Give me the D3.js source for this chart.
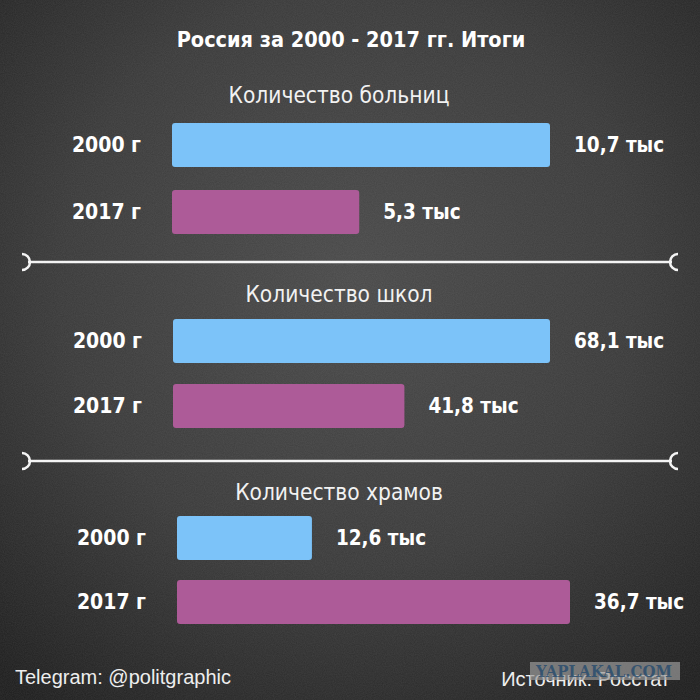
<!DOCTYPE html>
<html>
<head>
<meta charset="utf-8">
<script src="https://cdn.jsdelivr.net/npm/d3@7"></script>
<style>
  html, body { margin: 0; padding: 0; background: #2b2b2b; }
  svg { display: block; }
  .narrow { font-family: "Liberation Sans Narrow", "DejaVu Sans Condensed", "Liberation Sans", sans-serif; }
</style>
</head>
<body>
<div id="chart"></div>
<script>
// data
const title = "Россия за 2000 - 2017 гг. Итоги";
const sections = ["Количество больниц", "Количество школ", "Количество храмов"];
const years = ["2000 г", "2017 г"];
const values2000 = [10.7, 68.1, 12.6];
const values2017 = [5.3, 41.8, 36.7];
const unit = "тыс";
const footerLeft = "Telegram: @politgraphic";
const footerRight = "Источник: Росстат";

const colors = ["#7cc3f9", "#ad5b98"];

// layout per section (positions only)
const layout = [
  { titleY: 103, barX: 172, barW: 378, rowY: [123, 190] },
  { titleY: 302, barX: 173, barW: 377, rowY: [319, 384] },
  { titleY: 500, barX: 177, barW: 393, rowY: [516, 580] }
];
const separators = [262, 461];
const barH = 44;

const W = 700, H = 700;
const fmt = v => d3.format(".1f")(v).replace(".", ",") + " " + unit;

const svg = d3.select("#chart").append("svg").attr("width", W).attr("height", H);
const defs = svg.append("defs");

const grad = defs.append("radialGradient").attr("id", "bg")
  .attr("cx", "50%").attr("cy", "40%").attr("r", "75%");
grad.append("stop").attr("offset", "0%").attr("stop-color", "#4a4a4a");
grad.append("stop").attr("offset", "55%").attr("stop-color", "#3a3a3a");
grad.append("stop").attr("offset", "100%").attr("stop-color", "#1e1e1e");

const noise = defs.append("filter").attr("id", "noise").attr("x", 0).attr("y", 0).attr("width", "100%").attr("height", "100%");
noise.append("feTurbulence").attr("type", "fractalNoise").attr("baseFrequency", 0.9).attr("numOctaves", 2).attr("seed", 3);
noise.append("feColorMatrix").attr("type", "matrix")
  .attr("values", "0 0 0 0 0.5  0 0 0 0 0.5  0 0 0 0 0.5  0 0 0 0.12 0");

svg.append("rect").attr("width", W).attr("height", H).attr("fill", "url(#bg)");
svg.append("rect").attr("width", W).attr("height", H).attr("filter", "url(#noise)");

// title
svg.append("text").attr("class", "narrow")
  .attr("x", 351).attr("y", 47)
  .attr("text-anchor", "middle")
  .attr("fill", "#fff").attr("font-weight", "bold").attr("font-size", 21.5)
  .text(title);

sections.forEach((name, i) => {
  const L = layout[i];
  const vals = [values2000[i], values2017[i]];
  const x = d3.scaleLinear().domain([0, d3.max(vals)]).range([0, L.barW]);
  const y = d3.scaleOrdinal().domain(years).range(L.rowY);
  const g = svg.append("g");

  g.append("text").attr("class", "narrow")
    .attr("x", 339).attr("y", L.titleY)
    .attr("text-anchor", "middle")
    .attr("fill", "#f2f2f2").attr("font-size", 22.5)
    .text(name);

  const rows = g.selectAll("g.row").data(years.map((yr, j) => ({ yr, v: vals[j], j })))
    .enter().append("g").attr("class", "row");

  rows.append("rect")
    .attr("x", L.barX)
    .attr("y", d => y(d.yr))
    .attr("width", d => x(d.v))
    .attr("height", barH)
    .attr("rx", 3)
    .attr("fill", d => colors[d.j]);

  rows.append("text").attr("class", "narrow")
    .attr("x", L.barX - 31)
    .attr("y", d => y(d.yr) + barH / 2)
    .attr("dy", "0.35em")
    .attr("text-anchor", "end")
    .attr("fill", "#fff").attr("font-weight", "bold").attr("font-size", 21)
    .text(d => d.yr);

  rows.append("text").attr("class", "narrow")
    .attr("x", d => L.barX + x(d.v) + 24)
    .attr("y", d => y(d.yr) + barH / 2)
    .attr("dy", "0.35em")
    .attr("fill", "#fff").attr("font-weight", "bold").attr("font-size", 20.5)
    .text(d => fmt(d.v));
});

// separators with bracket ends
separators.forEach(sy => {
  const s = svg.append("g").attr("stroke", "#f4f4f4").attr("fill", "none").attr("stroke-width", 2.5);
  s.append("line").attr("x1", 28).attr("x2", 672).attr("y1", sy).attr("y2", sy);
  s.append("path").attr("d", `M22,${sy - 8} A8,8 0 0 1 22,${sy + 8}`);
  s.append("path").attr("d", `M678,${sy - 8} A8,8 0 0 0 678,${sy + 8}`);
});

// footer
svg.append("text")
  .attr("x", 15).attr("y", 684)
  .attr("font-family", "Liberation Sans Narrow, Liberation Sans, sans-serif")
  .attr("fill", "#eee").attr("font-size", 20)
  .text(footerLeft);

svg.append("text")
  .attr("x", 670).attr("y", 686)
  .attr("text-anchor", "end")
  .attr("font-family", "Liberation Sans Narrow, Liberation Sans, sans-serif")
  .attr("fill", "#eee").attr("font-size", 20)
  .text(footerRight);

// site watermark laid over the source line, as in the picture
svg.append("rect").attr("x", 530).attr("y", 662).attr("width", 150).attr("height", 18)
  .attr("fill", "#9a9a9a").attr("opacity", 0.7);
svg.append("text")
  .attr("x", 536).attr("y", 677)
  .attr("textLength", 136).attr("lengthAdjust", "spacingAndGlyphs")
  .attr("font-family", "DejaVu Serif, serif").attr("font-weight", "bold")
  .attr("fill", "#2a4d6e").attr("fill-opacity", 0.85).attr("font-size", 16)
  .text("YAPLAKAL.COM");
</script>
</body>
</html>
